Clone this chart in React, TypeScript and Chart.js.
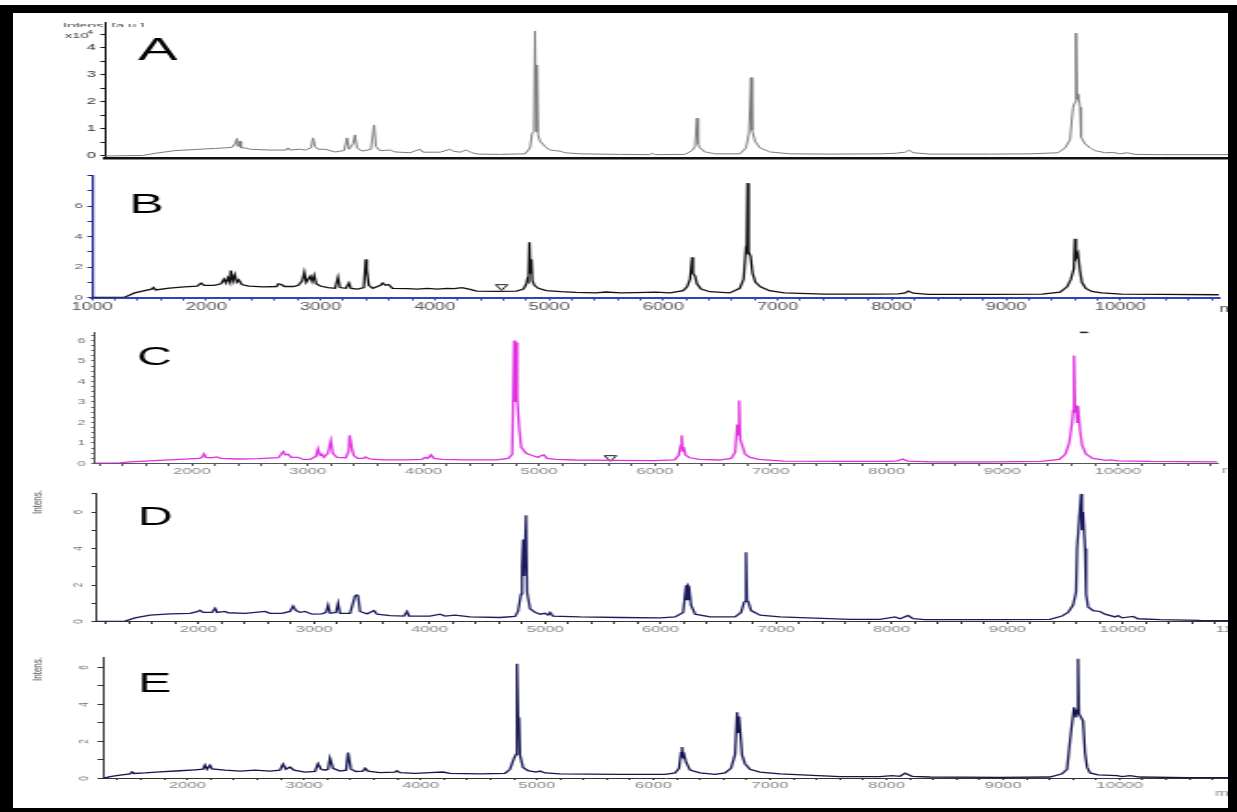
import React, { useEffect, useRef } from "react";
import { Chart, registerables } from "chart.js";

Chart.register(...registerables);

const FONT = "'Liberation Sans', Arial, Helvetica, sans-serif";
const STRETCH = 1.85;

type Pt = [number, number];

// ---- spectra: [m/z, intensity] ----
const spectrumA: Pt[] = [
  [1040, 0], [1376, 0.02], [1483, 0.1], [1660, 0.2], [1837, 0.24], [2014, 0.28], [2102, 0.3], [2164, 0.32],
  [2191, 0.45], [2209, 0.65], [2218, 0.35], [2235, 0.55], [2244, 0.3], [2280, 0.3], [2324, 0.25], [2501, 0.22],
  [2643, 0.22], [2660, 0.3], [2678, 0.22], [2767, 0.25], [2811, 0.22], [2864, 0.3], [2882, 0.67], [2899, 0.35],
  [2926, 0.25], [2988, 0.25], [3076, 0.15], [3156, 0.2], [3183, 0.67], [3200, 0.25], [3236, 0.45], [3254, 0.78],
  [3271, 0.3], [3315, 0.18], [3395, 0.25], [3422, 1.15], [3439, 0.35], [3475, 0.2], [3563, 0.22], [3608, 0.15],
  [3740, 0.12], [3829, 0.25], [3856, 0.14], [4006, 0.14], [4095, 0.25], [4121, 0.18], [4183, 0.14], [4236, 0.22],
  [4289, 0.12], [4343, 0.07], [4537, 0.06], [4759, 0.08], [4803, 0.3], [4821, 0.85], [4838, 0.9], [4847, 4.63],
  [4856, 0.9], [4865, 3.37], [4874, 0.8], [4891, 0.55], [4935, 0.35], [4980, 0.22], [5024, 0.2], [5069, 0.18],
  [5113, 0.12], [5246, 0.08], [5600, 0.06], [5865, 0.05], [5883, 0.1], [5910, 0.05], [6175, 0.06], [6237, 0.2],
  [6264, 0.35], [6282, 1.4], [6291, 0.45], [6308, 0.3], [6352, 0.15], [6441, 0.08], [6662, 0.08], [6715, 0.3],
  [6742, 0.85], [6760, 2.9], [6769, 0.95], [6795, 0.55], [6839, 0.3], [6928, 0.15], [7105, 0.08], [7459, 0.07],
  [7902, 0.08], [8035, 0.1], [8123, 0.14], [8159, 0.22], [8194, 0.12], [8345, 0.07], [8876, 0.07], [9230, 0.08],
  [9478, 0.12], [9540, 0.3], [9584, 0.6], [9611, 1.8], [9629, 2.0], [9637, 4.55], [9646, 2.1], [9655, 2.3],
  [9673, 1.8], [9682, 0.7], [9717, 0.45], [9761, 0.3], [9806, 0.2], [9894, 0.12], [9965, 0.13], [10027, 0.08],
  [10089, 0.12], [10160, 0.06], [10381, 0.05], [10735, 0.05], [10983, 0.05],
];

const spectrumB: Pt[] = [
  [1000, 0], [1286, 0.02], [1373, 0.3], [1460, 0.45], [1521, 0.55], [1538, 0.65], [1556, 0.5], [1677, 0.62],
  [1807, 0.7], [1920, 0.75], [1955, 0.95], [1981, 0.8], [2068, 0.8], [2129, 0.9], [2155, 1.2], [2172, 0.95],
  [2189, 1.3], [2207, 1.0], [2215, 1.77], [2233, 1.1], [2250, 1.5], [2267, 1.0], [2285, 1.15], [2311, 0.85],
  [2372, 0.75], [2502, 0.7], [2615, 0.72], [2632, 0.9], [2658, 0.85], [2684, 0.72], [2762, 0.72], [2806, 0.8],
  [2840, 1.1], [2858, 1.66], [2875, 1.0], [2892, 1.2], [2910, 1.4], [2927, 1.05], [2945, 1.45], [2962, 0.9],
  [2997, 0.75], [3066, 0.65], [3127, 0.6], [3153, 1.33], [3170, 0.65], [3222, 0.6], [3248, 0.95], [3266, 0.6],
  [3327, 0.55], [3379, 0.65], [3396, 2.5], [3405, 1.8], [3422, 0.8], [3457, 0.6], [3526, 0.8], [3544, 0.95],
  [3570, 0.8], [3596, 0.85], [3630, 0.6], [3761, 0.58], [3847, 0.55], [3934, 0.6], [4021, 0.55], [4108, 0.6],
  [4169, 0.58], [4238, 0.65], [4299, 0.55], [4368, 0.42], [4542, 0.4], [4715, 0.42], [4776, 0.55], [4802, 0.9],
  [4811, 1.2], [4820, 1.1], [4828, 3.63], [4837, 1.6], [4846, 2.5], [4854, 1.1], [4872, 0.8], [4906, 0.6],
  [4976, 0.45], [5106, 0.38], [5236, 0.33], [5410, 0.3], [5497, 0.36], [5627, 0.3], [5757, 0.32], [5931, 0.35],
  [6061, 0.3], [6174, 0.45], [6208, 0.7], [6234, 1.2], [6252, 2.64], [6260, 1.6], [6278, 1.4], [6295, 0.9],
  [6330, 0.55], [6408, 0.38], [6582, 0.3], [6669, 0.6], [6703, 1.2], [6721, 3.0], [6729, 2.8], [6738, 7.5],
  [6747, 3.0], [6764, 2.7], [6781, 1.6], [6807, 1.0], [6851, 0.7], [6929, 0.45], [7059, 0.3], [7407, 0.22],
  [7841, 0.22], [8058, 0.24], [8118, 0.3], [8144, 0.42], [8188, 0.28], [8318, 0.2], [8882, 0.2], [9316, 0.22],
  [9473, 0.35], [9534, 0.7], [9568, 1.2], [9594, 1.9], [9603, 3.85], [9612, 2.6], [9629, 2.9], [9646, 1.8],
  [9664, 1.0], [9698, 0.6], [9750, 0.4], [9837, 0.3], [10011, 0.22], [10358, 0.2], [10862, 0.18],
];

const spectrumC: Pt[] = [
  [1163, 0.02], [1377, 0.03], [1462, 0.08], [1591, 0.12], [1719, 0.15], [1890, 0.2], [2062, 0.25], [2087, 0.3],
  [2104, 0.47], [2122, 0.3], [2164, 0.28], [2216, 0.32], [2250, 0.25], [2404, 0.22], [2575, 0.24], [2747, 0.28],
  [2772, 0.45], [2789, 0.58], [2807, 0.42], [2832, 0.45], [2858, 0.3], [2918, 0.3], [2961, 0.2], [3021, 0.2],
  [3072, 0.35], [3089, 0.72], [3106, 0.4], [3123, 0.45], [3140, 0.3], [3175, 0.5], [3200, 1.12], [3217, 0.5],
  [3252, 0.3], [3329, 0.28], [3354, 0.6], [3363, 1.37], [3380, 0.8], [3397, 0.4], [3432, 0.25], [3483, 0.25],
  [3500, 0.32], [3534, 0.22], [3646, 0.18], [3860, 0.18], [3988, 0.2], [4014, 0.3], [4039, 0.25], [4065, 0.42],
  [4091, 0.25], [4159, 0.2], [4373, 0.18], [4630, 0.18], [4733, 0.25], [4767, 0.45], [4784, 6.0], [4793, 3.0],
  [4801, 5.9], [4810, 3.2], [4827, 1.75], [4844, 0.8], [4887, 0.5], [4947, 0.38], [4990, 0.3], [5015, 0.38],
  [5041, 0.42], [5067, 0.25], [5144, 0.2], [5315, 0.17], [5658, 0.15], [6000, 0.14], [6171, 0.18], [6205, 0.4],
  [6223, 0.9], [6231, 1.37], [6240, 0.6], [6248, 0.8], [6265, 0.4], [6300, 0.28], [6385, 0.2], [6557, 0.17],
  [6659, 0.25], [6693, 0.55], [6711, 1.9], [6719, 1.4], [6728, 3.07], [6736, 1.2], [6753, 0.9], [6779, 0.45],
  [6822, 0.3], [6899, 0.2], [7113, 0.12], [7627, 0.1], [8012, 0.1], [8098, 0.13], [8140, 0.22], [8183, 0.12],
  [8397, 0.08], [8911, 0.08], [9339, 0.1], [9493, 0.2], [9545, 0.45], [9579, 1.0], [9604, 2.0], [9613, 2.6],
  [9621, 5.27], [9630, 2.5], [9638, 2.85], [9647, 2.0], [9655, 2.8], [9673, 1.6], [9690, 0.9], [9724, 0.45],
  [9784, 0.25], [9896, 0.15], [9938, 0.18], [9998, 0.13], [10281, 0.1], [10863, 0.08],
];

const spectrumD: Pt[] = [
  [1121, 0], [1364, 0.02], [1450, 0.2], [1580, 0.35], [1753, 0.42], [1926, 0.45], [1996, 0.55], [2013, 0.62],
  [2039, 0.5], [2117, 0.5], [2143, 0.72], [2160, 0.5], [2229, 0.55], [2255, 0.48], [2403, 0.45], [2576, 0.55],
  [2619, 0.45], [2723, 0.45], [2792, 0.55], [2818, 0.85], [2844, 0.6], [2879, 0.5], [2922, 0.55], [2983, 0.4],
  [3069, 0.42], [3104, 0.5], [3121, 0.9], [3139, 0.45], [3190, 0.5], [3208, 1.0], [3225, 0.45], [3312, 0.45],
  [3355, 1.4], [3372, 1.45], [3381, 1.4], [3398, 0.55], [3459, 0.42], [3519, 0.6], [3545, 0.4], [3658, 0.32],
  [3779, 0.3], [3805, 0.55], [3823, 0.3], [4004, 0.3], [4091, 0.4], [4134, 0.3], [4221, 0.35], [4351, 0.25],
  [4610, 0.22], [4740, 0.28], [4766, 0.55], [4792, 1.5], [4801, 3.0], [4810, 4.5], [4818, 2.5], [4835, 5.83],
  [4844, 1.6], [4870, 0.7], [4913, 0.5], [4957, 0.4], [5000, 0.45], [5026, 0.35], [5043, 0.5], [5069, 0.3],
  [5303, 0.25], [5649, 0.22], [5996, 0.2], [6126, 0.25], [6195, 0.5], [6221, 1.98], [6229, 1.2], [6238, 1.98],
  [6247, 1.9], [6264, 0.9], [6299, 0.4], [6429, 0.25], [6645, 0.25], [6697, 0.5], [6723, 1.06], [6732, 1.1],
  [6740, 3.8], [6749, 1.15], [6758, 1.1], [6784, 0.6], [6861, 0.35], [7035, 0.25], [7641, 0.12], [7900, 0.12],
  [8030, 0.25], [8074, 0.15], [8143, 0.33], [8186, 0.15], [8290, 0.1], [8939, 0.1], [9372, 0.12], [9476, 0.3],
  [9528, 0.5], [9571, 0.9], [9597, 1.6], [9606, 4.0], [9623, 5.5], [9641, 7.0], [9649, 5.0], [9658, 6.0],
  [9675, 4.0], [9684, 1.5], [9701, 0.8], [9745, 0.6], [9805, 0.55], [9848, 0.4], [9935, 0.25], [9961, 0.32],
  [9996, 0.2], [10091, 0.28], [10134, 0.15], [10325, 0.1], [10671, 0.06], [10931, 0.05], [11190, 0.05],
];

const spectrumE: Pt[] = [
  [1275, 0], [1335, 0.1], [1421, 0.18], [1506, 0.25], [1524, 0.35], [1541, 0.27], [1635, 0.3], [1764, 0.36],
  [1936, 0.42], [2064, 0.47], [2133, 0.5], [2150, 0.72], [2167, 0.5], [2193, 0.72], [2210, 0.52], [2322, 0.45],
  [2451, 0.4], [2579, 0.45], [2708, 0.4], [2794, 0.45], [2820, 0.78], [2845, 0.5], [2880, 0.62], [2914, 0.45],
  [3009, 0.35], [3094, 0.38], [3120, 0.8], [3146, 0.5], [3180, 0.45], [3206, 0.5], [3223, 1.1], [3249, 0.55],
  [3309, 0.4], [3361, 0.45], [3378, 1.4], [3403, 0.5], [3446, 0.38], [3506, 0.4], [3524, 0.55], [3549, 0.4],
  [3652, 0.32], [3781, 0.35], [3798, 0.42], [3824, 0.32], [3953, 0.28], [4082, 0.32], [4193, 0.35], [4253, 0.28],
  [4511, 0.25], [4725, 0.28], [4768, 0.5], [4803, 1.1], [4820, 1.3], [4828, 6.2], [4837, 3.3], [4846, 3.2],
  [4854, 1.25], [4880, 0.6], [4923, 0.42], [4991, 0.35], [5026, 0.4], [5069, 0.3], [5197, 0.25], [5712, 0.22],
  [6099, 0.22], [6185, 0.3], [6219, 0.55], [6236, 1.4], [6245, 1.7], [6253, 1.2], [6262, 1.3], [6279, 0.88],
  [6313, 0.45], [6399, 0.3], [6528, 0.22], [6614, 0.3], [6665, 0.55], [6700, 1.3], [6717, 3.58], [6725, 2.5],
  [6734, 3.35], [6751, 2.0], [6760, 1.26], [6785, 0.8], [6828, 0.5], [6914, 0.35], [7086, 0.25], [7601, 0.1],
  [7944, 0.1], [8047, 0.15], [8116, 0.12], [8159, 0.29], [8219, 0.12], [8373, 0.08], [8974, 0.06], [9403, 0.08],
  [9506, 0.25], [9549, 0.5], [9575, 2.05], [9609, 3.85], [9627, 3.3], [9635, 3.7], [9644, 6.47], [9652, 3.5],
  [9670, 3.3], [9687, 3.1], [9704, 1.35], [9721, 0.6], [9747, 0.3], [9815, 0.2], [9979, 0.15], [10021, 0.1],
  [10090, 0.15], [10176, 0.08], [10579, 0.05], [10931, 0.05],
];

// ---- tick labels ----
const xLabelsB = [1000, 2000, 3000, 4000, 5000, 6000, 7000, 8000, 9000, 10000];
const xLabelsC = [2000, 3000, 4000, 5000, 6000, 7000, 8000, 9000, 10000];
const xLabelsD = [2000, 3000, 4000, 5000, 6000, 7000, 8000, 9000, 10000, 11000];
const xLabelsE = [2000, 3000, 4000, 5000, 6000, 7000, 8000, 9000, 10000];
const yLabelsA = [0, 1, 2, 3, 4];
const yLabelsB = [0, 2, 4, 6];
const yLabelsC = [0, 1, 2, 3, 4, 5, 6];
const yLabelsD = [0, 2, 4, 6];
const yLabelsE = [0, 2, 4, 6];

// ---- annotation markers ----
const markersB = [{ x: 4585, y: 0.72 }];
const markersC = [{ x: 5615, y: 0.29 }];
const dashC = [{ x: 9707, y: 6.39 }];

interface TextItem {
  text: string; x: number; y: number; size: number; color?: string;
  rotate?: number; align?: CanvasTextAlign; clip?: [number, number];
}
interface MarkerSet { data: { x: number; y: number }[]; style: string; radius: number; rotation: number; width: number }
interface PanelSpec {
  data: Pt[]; color: string; lineWidth: number;
  box: [number, number, number, number];
  area: [number, number, number, number];
  xMin: number; xMax: number; xLabels: number[]; xStep: number; xFont: number; xColor: string;
  xTick: number; xPad: number; xAxisColor: string; xAxisWidth: number;
  yMin: number; yMax: number; yLabels: number[]; yStep: number; yFont: number; yColor: string;
  yTick: number; yPad: number; yRot: number; yAxisColor: string; yAxisWidth: number;
  texts: TextItem[];
  markers?: MarkerSet[];
}

const panels: PanelSpec[] = [
  {
    data: spectrumA, color: "#7a7a7a", lineWidth: 1,
    box: [14, 10, 1228, 163], area: [105, 22.3, 1228, 158.7],
    xMin: 1040, xMax: 10983, xLabels: [], xStep: 0, xFont: 9, xColor: "#555", xTick: 0, xPad: 0,
    xAxisColor: "#111", xAxisWidth: 2.5,
    yMin: -0.1, yMax: 4.95, yLabels: yLabelsA, yStep: 0.5, yFont: 9, yColor: "#333",
    yTick: 2.5, yPad: 2.5, yRot: 0, yAxisColor: "#111", yAxisWidth: 1,
    texts: [
      { text: "A", x: 138, y: 60, size: 32 },
      { text: "x10", x: 65, y: 38, size: 8, color: "#333" },
      { text: "4", x: 87, y: 34, size: 6, color: "#333" },
      { text: "Intens. [a.u.]", x: 63, y: 28, size: 8, color: "#444", clip: [20, 27] },
    ],
  },
  {
    data: spectrumB, color: "#111111", lineWidth: 1.3,
    box: [14, 165, 1228, 322], area: [92, 175.5, 1228, 297.5],
    xMin: 1000, xMax: 10862, xLabels: xLabelsB, xStep: 200, xFont: 10, xColor: "#555", xTick: 3, xPad: 1,
    xAxisColor: "#3344bb", xAxisWidth: 2,
    yMin: 0, yMax: 8, yLabels: yLabelsB, yStep: 1, yFont: 8, yColor: "#555",
    yTick: 2.5, yPad: 2.5, yRot: 0, yAxisColor: "#1c2590", yAxisWidth: 1.2,
    texts: [
      { text: "B", x: 129, y: 213, size: 28 },
      { text: "m/z", x: 1219, y: 312, size: 10, color: "#555" },
    ],
    markers: [{ data: markersB, style: "triangle", radius: 3.75, rotation: 180, width: 1 }],
  },
  {
    data: spectrumC, color: "#e030e0", lineWidth: 1.3,
    box: [14, 322, 1228, 484], area: [95, 332, 1228, 463.5],
    xMin: 1163, xMax: 10863, xLabels: xLabelsC, xStep: 200, xFont: 9, xColor: "#888", xTick: 2.5, xPad: 0,
    xAxisColor: "#555", xAxisWidth: 1,
    yMin: 0, yMax: 6.41, yLabels: yLabelsC, yStep: 0.25, yFont: 8, yColor: "#777",
    yTick: 2, yPad: 3, yRot: 0, yAxisColor: "#555", yAxisWidth: 1,
    texts: [
      { text: "C", x: 137, y: 365, size: 26 },
      { text: "m/z", x: 1222, y: 473, size: 9, color: "#888" },
    ],
    markers: [
      { data: markersC, style: "triangle", radius: 3.75, rotation: 180, width: 1 },
      { data: dashC, style: "line", radius: 2.2, rotation: 0, width: 1.5 },
    ],
  },
  {
    data: spectrumD, color: "#1a1a5e", lineWidth: 1.3,
    box: [14, 484, 1260, 646], area: [97, 493.8, 1260, 621.5],
    xMin: 1121, xMax: 11190, xLabels: xLabelsD, xStep: 200, xFont: 9, xColor: "#888", xTick: 2.5, xPad: 0.5,
    xAxisColor: "#333", xAxisWidth: 1,
    yMin: 0, yMax: 7, yLabels: yLabelsD, yStep: 1, yFont: 8, yColor: "#777",
    yTick: 3, yPad: 5, yRot: 90, yAxisColor: "#333", yAxisWidth: 1,
    texts: [
      { text: "D", x: 138, y: 525, size: 26 },
      { text: "Intens.", x: 41, y: 490, size: 8, color: "#555", rotate: -Math.PI / 2, align: "right" },
    ],
  },
  {
    data: spectrumE, color: "#151550", lineWidth: 1.3,
    box: [14, 646, 1228, 806], area: [103, 657.3, 1228, 778.5],
    xMin: 1275, xMax: 10931, xLabels: xLabelsE, xStep: 200, xFont: 9, xColor: "#888", xTick: 1.5, xPad: 0,
    xAxisColor: "#333", xAxisWidth: 1,
    yMin: 0, yMax: 6.55, yLabels: yLabelsE, yStep: 1, yFont: 8, yColor: "#777",
    yTick: 3, yPad: 5, yRot: 90, yAxisColor: "#333", yAxisWidth: 1,
    texts: [
      { text: "E", x: 138, y: 692, size: 27 },
      { text: "Intens.", x: 41, y: 657, size: 8, color: "#555", rotate: -Math.PI / 2, align: "right" },
      { text: "m/z", x: 1215, y: 796, size: 9, color: "#888" },
    ],
  },
];

function stepValues(min: number, max: number, step: number): number[] {
  const out: number[] = [];
  if (!step) return out;
  for (let v = Math.ceil(min / step - 1e-9) * step; v <= max + 1e-9; v += step) out.push(Math.round(v * 1000) / 1000);
  return out;
}

function Panel({ spec }: { spec: PanelSpec }) {
  const ref = useRef<HTMLCanvasElement>(null);
  const [bl, bt, br, bb] = spec.box;
  const dispW = br - bl;
  const dispH = bb - bt;
  const w = Math.round(dispW / STRETCH);
  const sx = dispW / w;

  useEffect(() => {
    const canvas = ref.current;
    if (!canvas) return;
    const [al, at, ar, ab] = spec.area;
    const yW = (al - bl) / sx;
    const rightPad = (br - ar) / sx;
    const topPad = at - bt;
    const xH = bb - ab;

    const xTicks = Array.from(new Set([...stepValues(spec.xMin, spec.xMax, spec.xStep), ...spec.xLabels]))
      .filter((v) => v >= spec.xMin && v <= spec.xMax)
      .sort((a, b) => a - b);
    const yTicks = Array.from(new Set([...stepValues(Math.max(0, spec.yMin), spec.yMax, spec.yStep), ...spec.yLabels]))
      .sort((a, b) => a - b);

    const textPlugin = {
      id: "panelText",
      afterDraw(chart: any) {
        const ctx = chart.ctx as CanvasRenderingContext2D;
        spec.texts.forEach((it) => {
          ctx.save();
          if (it.clip) {
            ctx.beginPath();
            ctx.rect(0, it.clip[0] - bt, chart.width, it.clip[1] - it.clip[0]);
            ctx.clip();
          }
          ctx.translate((it.x - bl) / sx, it.y - bt);
          if (it.rotate) ctx.rotate(it.rotate);
          ctx.font = `${it.size}px ${FONT}`;
          ctx.fillStyle = it.color || "#000";
          ctx.textAlign = it.align || "left";
          ctx.textBaseline = "alphabetic";
          ctx.fillText(it.text, 0, 0);
          ctx.restore();
        });
      },
    };

    const datasets: any[] = [
      {
        data: spec.data.map(([x, y]) => ({ x, y })),
        borderColor: spec.color,
        borderWidth: spec.lineWidth,
        pointRadius: 0,
        tension: 0,
        fill: false,
      },
    ];
    (spec.markers || []).forEach((m) => {
      datasets.push({
        data: m.data,
        showLine: false,
        pointStyle: m.style,
        pointRadius: m.radius,
        pointRotation: m.rotation,
        pointBorderColor: "#222",
        pointBackgroundColor: "rgba(0,0,0,0)",
        pointBorderWidth: m.width,
        borderColor: "#222",
        clip: false,
      });
    });

    const chart = new Chart(canvas, {
      type: "line",
      data: { datasets },
      options: {
        responsive: false,
        animation: false,
        devicePixelRatio: 1,
        events: [],
        layout: { padding: { top: topPad, right: rightPad, left: 0, bottom: 0 } },
        plugins: { legend: { display: false }, tooltip: { enabled: false }, title: { display: false } },
        scales: {
          x: {
            type: "linear",
            min: spec.xMin,
            max: spec.xMax,
            afterBuildTicks: (scale: any) => {
              scale.ticks = xTicks.map((v) => ({ value: v }));
            },
            afterFit: (scale: any) => {
              scale.height = xH;
              scale.paddingLeft = 0;
              scale.paddingRight = 0;
            },
            ticks: {
              display: spec.xLabels.length > 0,
              autoSkip: false,
              maxRotation: 0,
              minRotation: 0,
              padding: spec.xPad,
              color: spec.xColor,
              font: { family: FONT, size: spec.xFont },
              callback: (v: any) => (spec.xLabels.includes(Number(v)) ? String(v) : ""),
            },
            grid: {
              display: spec.xLabels.length > 0,
              drawOnChartArea: false,
              drawTicks: true,
              tickLength: spec.xTick,
              tickColor: spec.xAxisColor,
              tickWidth: 1,
            },
            border: { display: true, color: spec.xAxisColor, width: spec.xAxisWidth },
          },
          y: {
            type: "linear",
            min: spec.yMin,
            max: spec.yMax,
            afterBuildTicks: (scale: any) => {
              scale.ticks = yTicks.map((v) => ({ value: v }));
            },
            afterFit: (scale: any) => {
              scale.width = yW;
              scale.paddingTop = 0;
              scale.paddingBottom = 0;
            },
            ticks: {
              autoSkip: false,
              minRotation: spec.yRot,
              maxRotation: spec.yRot,
              crossAlign: spec.yRot ? "center" : "near",
              padding: spec.yPad,
              color: spec.yColor,
              font: { family: FONT, size: spec.yFont },
              callback: (v: any) => (spec.yLabels.includes(Number(v)) ? String(v) : ""),
            },
            grid: {
              drawOnChartArea: false,
              drawTicks: true,
              tickLength: spec.yTick,
              tickColor: spec.yAxisColor,
              tickWidth: 1,
            },
            border: { display: true, color: spec.yAxisColor, width: spec.yAxisWidth },
          },
        },
      } as any,
      plugins: [textPlugin],
    });
    return () => chart.destroy();
  }, []);

  return (
    <canvas
      ref={ref}
      width={w}
      height={dispH}
      style={{ position: "absolute", left: bl, top: bt, width: dispW, height: dispH }}
    />
  );
}

export default function App() {
  const black = "#000";
  return (
    <div
      style={{
        position: "fixed", left: 0, top: 0, width: 1237, height: 812,
        overflow: "hidden", background: "#fff",
      }}
    >
      {panels.map((p, i) => (
        <Panel key={i} spec={p} />
      ))}
      <div style={{ position: "absolute", left: 0, top: 5, width: 1237, height: 8, background: black, zIndex: 5 }} />
      <div style={{ position: "absolute", left: 0, top: 5, width: 13, height: 807, background: black, zIndex: 5 }} />
      <div style={{ position: "absolute", left: 1228, top: 5, width: 9, height: 807, background: black, zIndex: 5 }} />
      <div style={{ position: "absolute", left: 0, top: 808, width: 1237, height: 4, background: black, zIndex: 5 }} />
    </div>
  );
}
